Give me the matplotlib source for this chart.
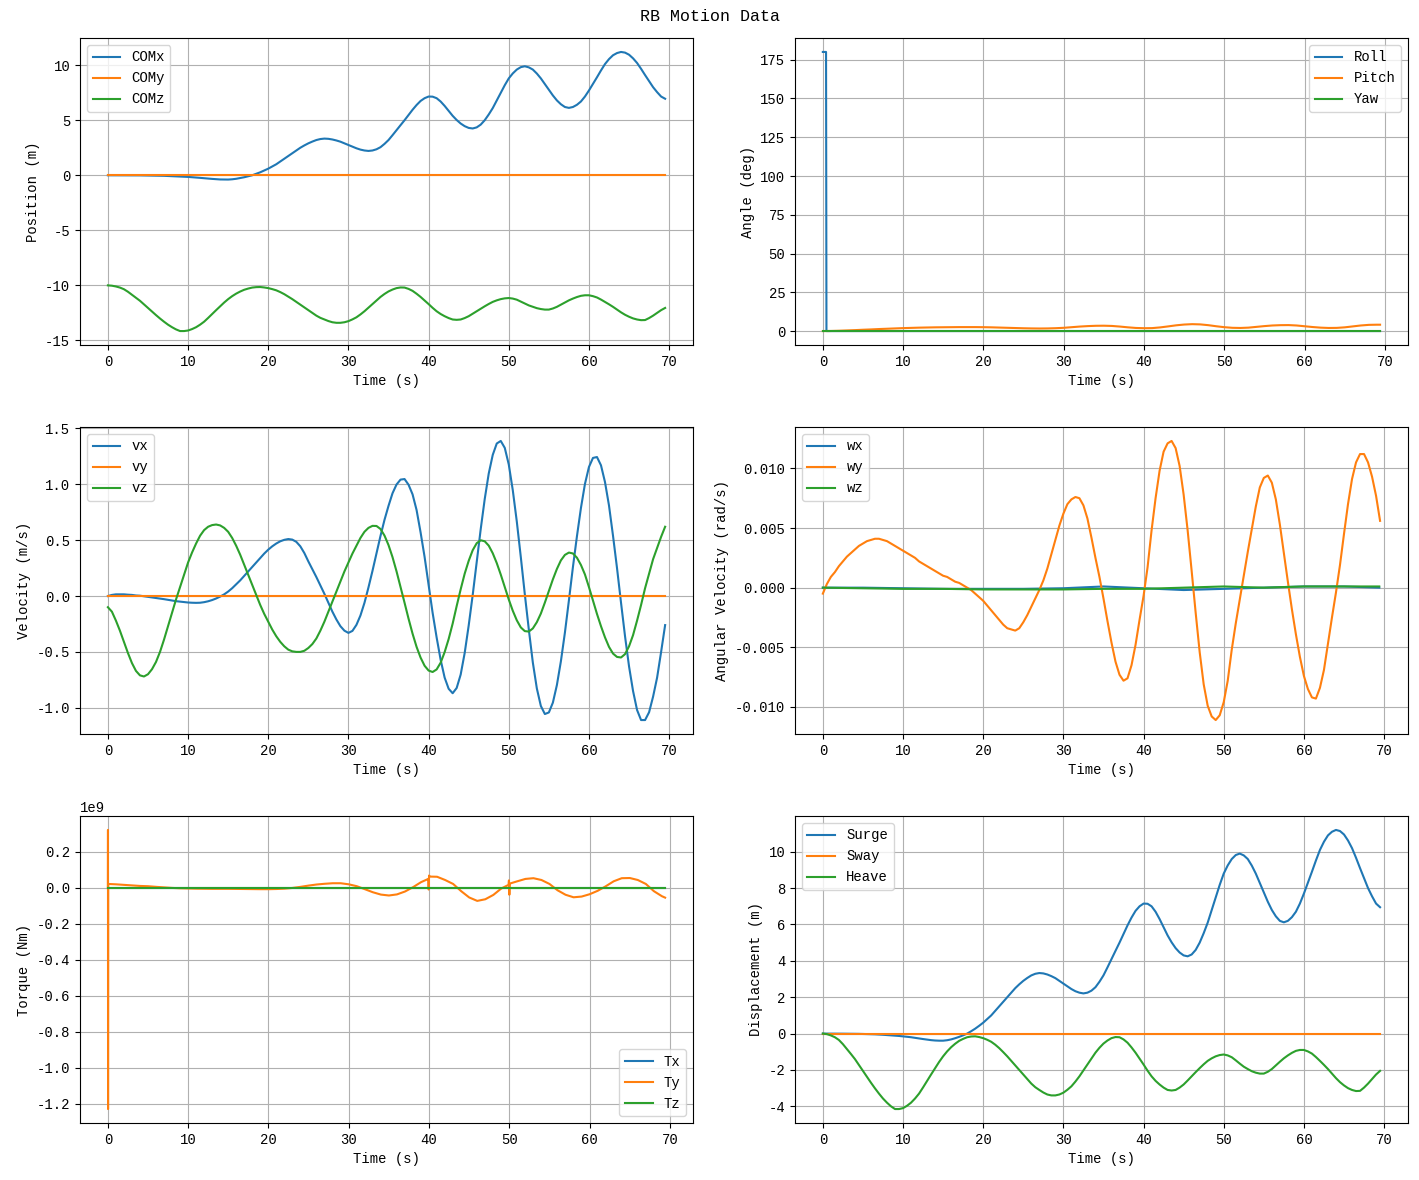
import numpy as np
import matplotlib
matplotlib.use('Agg')
import matplotlib.pyplot as plt

plt.rcParams['font.family'] = ['Liberation Mono', 'DejaVu Sans']
plt.rcParams['font.size'] = 10
plt.rcParams['axes.unicode_minus'] = False

# ---- time bases ----
t_slow = list(range(70)) + [69.4]          # 1 s samples (pitch / yaw)
STEP = 0.5                                 # other series sampled every 0.5 s

# ---- centre of mass position (m), 0.5 s samples ----
com_x = [0, 0, 0, 0, 0, -0.005, -0.01, -0.01, -0.01, -0.015,
         -0.02, -0.025, -0.03, -0.04, -0.05, -0.065, -0.08, -0.095, -0.11, -0.13,
         -0.15, -0.175, -0.2, -0.235, -0.27, -0.30, -0.33, -0.36, -0.38, -0.39,
         -0.39, -0.365, -0.32, -0.255, -0.18, -0.095, 0.0, 0.13, 0.27, 0.43,
         0.6, 0.8, 1.0, 1.25, 1.5, 1.75, 2.0, 2.25, 2.5, 2.71,
         2.9, 3.06, 3.2, 3.29, 3.33, 3.31, 3.25, 3.16, 3.05, 2.9,
         2.75, 2.6, 2.45, 2.33, 2.25, 2.21, 2.25, 2.36, 2.55, 2.85,
         3.2, 3.64, 4.1, 4.55, 5.0, 5.48, 5.95, 6.38, 6.75, 7.0,
         7.15, 7.14, 7.0, 6.7, 6.3, 5.85, 5.4, 5.02, 4.7, 4.46,
         4.3, 4.25, 4.35, 4.6, 5.0, 5.52, 6.1, 6.8, 7.5, 8.18,
         8.8, 9.25, 9.6, 9.82, 9.9, 9.8, 9.6, 9.24, 8.8, 8.28,
         7.75, 7.25, 6.8, 6.45, 6.2, 6.12, 6.2, 6.4, 6.7, 7.15,
         7.7, 8.3, 8.9, 9.52, 10.1, 10.55, 10.9, 11.1, 11.2, 11.14,
         10.95, 10.62, 10.2, 9.67, 9.1, 8.55, 8.0, 7.55, 7.15, 6.95]
com_y = [0.0] * len(com_x)
com_z = [-10.0, -10.03, -10.1, -10.2, -10.35, -10.58, -10.85, -11.12, -11.4, -11.72,
         -12.05, -12.38, -12.7, -13.01, -13.3, -13.57, -13.8, -14.0, -14.15, -14.15,
         -14.1, -13.97, -13.8, -13.57, -13.3, -12.96, -12.6, -12.25, -11.9, -11.56,
         -11.25, -10.98, -10.75, -10.56, -10.4, -10.29, -10.2, -10.16, -10.15, -10.19,
         -10.25, -10.34, -10.45, -10.61, -10.8, -11.02, -11.25, -11.5, -11.75, -12.0,
         -12.25, -12.5, -12.75, -12.95, -13.1, -13.24, -13.35, -13.4, -13.4, -13.35,
         -13.25, -13.09, -12.9, -12.64, -12.35, -12.03, -11.7, -11.37, -11.05, -10.78,
         -10.55, -10.38, -10.25, -10.19, -10.2, -10.32, -10.5, -10.76, -11.05, -11.37,
         -11.7, -12.04, -12.35, -12.6, -12.8, -12.97, -13.1, -13.13, -13.1, -12.97,
         -12.8, -12.58, -12.35, -12.12, -11.9, -11.69, -11.5, -11.36, -11.25, -11.18,
         -11.15, -11.2, -11.3, -11.47, -11.65, -11.82, -11.95, -12.07, -12.15, -12.2,
         -12.2, -12.1, -11.95, -11.75, -11.55, -11.36, -11.2, -11.06, -10.95, -10.9,
         -10.9, -10.98, -11.1, -11.29, -11.5, -11.72, -11.95, -12.2, -12.45, -12.67,
         -12.85, -13.0, -13.1, -13.16, -13.15, -12.97, -12.75, -12.5, -12.25, -12.05]

# ---- attitude (deg) ----
t_roll = [0, 0.4, 0.45, 69.4]
roll = [180, 180, 0, 0]
pitch = [0, 0.05, 0.2, 0.4, 0.6, 0.85, 1.05, 1.3, 1.5, 1.7,
         1.9, 2.05, 2.2, 2.3, 2.4, 2.45, 2.5, 2.55, 2.55, 2.55,
         2.5, 2.4, 2.25, 2.1, 1.95, 1.8, 1.7, 1.65, 1.7, 1.85,
         2.1, 2.5, 2.9, 3.2, 3.4, 3.45, 3.3, 2.9, 2.4, 2.0,
         1.85, 1.9, 2.35, 3.0, 3.7, 4.2, 4.45, 4.3, 3.8, 3.1,
         2.5, 2.1, 2.0, 2.2, 2.7, 3.2, 3.6, 3.8, 3.85, 3.6,
         3.1, 2.6, 2.2, 2.0, 2.05, 2.4, 3.0, 3.6, 4.0, 4.1,
         4.1]
yaw = [0.0] * len(t_slow)

# ---- linear velocity (m/s), 0.5 s samples ----
vx = [0.0, 0.01, 0.015, 0.015, 0.015, 0.012, 0.01, 0.005, 0.003, -0.002,
      -0.007, -0.012, -0.017, -0.022, -0.028, -0.034, -0.04, -0.046, -0.05, -0.054,
      -0.058, -0.06, -0.061, -0.06, -0.055, -0.047, -0.036, -0.022, -0.005, 0.015,
      0.04, 0.07, 0.105, 0.14, 0.18, 0.22, 0.26, 0.30, 0.34, 0.38,
      0.415, 0.445, 0.47, 0.49, 0.503, 0.51, 0.505, 0.485, 0.445, 0.385,
      0.31, 0.24, 0.17, 0.095, 0.02, -0.06, -0.14, -0.21, -0.27, -0.31,
      -0.33, -0.312, -0.258, -0.174, -0.061, 0.077, 0.225, 0.383, 0.538, 0.682,
      0.807, 0.92, 0.998, 1.042, 1.047, 0.996, 0.91, 0.77, 0.57, 0.35,
      0.1, -0.15, -0.37, -0.57, -0.73, -0.83, -0.87, -0.823, -0.703, -0.51,
      -0.264, 0.009, 0.305, 0.599, 0.868, 1.096, 1.263, 1.365, 1.388, 1.326,
      1.177, 0.947, 0.667, 0.349, 0.016, -0.30, -0.595, -0.827, -0.984, -1.056,
      -1.042, -0.954, -0.797, -0.584, -0.328, -0.039, 0.259, 0.534, 0.788, 1.003,
      1.155, 1.236, 1.244, 1.17, 1.02, 0.81, 0.54, 0.25, -0.06, -0.36,
      -0.63, -0.85, -1.02, -1.11, -1.11, -1.04, -0.9, -0.73, -0.5, -0.26]
vy = [0.0] * len(vx)
vz = [-0.1, -0.14, -0.22, -0.31, -0.41, -0.51, -0.6, -0.67, -0.71, -0.72,
      -0.7, -0.655, -0.59, -0.5, -0.39, -0.27, -0.15, -0.03, 0.08, 0.19,
      0.3, 0.39, 0.47, 0.54, 0.59, 0.62, 0.635, 0.64, 0.632, 0.61,
      0.575, 0.52, 0.45, 0.37, 0.28, 0.19, 0.1, 0.01, -0.08, -0.16,
      -0.23, -0.3, -0.36, -0.41, -0.45, -0.48, -0.495, -0.5, -0.5, -0.49,
      -0.465, -0.43, -0.38, -0.31, -0.23, -0.14, -0.05, 0.04, 0.13, 0.22,
      0.3, 0.38, 0.45, 0.52, 0.575, 0.61, 0.628, 0.627, 0.6, 0.541,
      0.456, 0.348, 0.221, 0.082, -0.06, -0.203, -0.337, -0.455, -0.551, -0.624,
      -0.667, -0.68, -0.657, -0.597, -0.502, -0.385, -0.247, -0.09, 0.06, 0.2,
      0.315, 0.41, 0.473, 0.499, 0.49, 0.451, 0.383, 0.295, 0.192, 0.079,
      -0.031, -0.132, -0.217, -0.281, -0.314, -0.318, -0.29, -0.234, -0.157, -0.059,
      0.045, 0.149, 0.242, 0.319, 0.368, 0.389, 0.381, 0.343, 0.278, 0.193,
      0.08, -0.04, -0.16, -0.27, -0.37, -0.455, -0.515, -0.545, -0.55, -0.52,
      -0.45, -0.35, -0.22, -0.08, 0.07, 0.2, 0.33, 0.43, 0.53, 0.62]

# ---- angular velocity (rad/s) ----
wy = [-0.0005, 0.0003, 0.0009, 0.0013, 0.0018, 0.0022, 0.0026, 0.0029, 0.0032, 0.0035,
      0.0037, 0.0039, 0.0040, 0.0041, 0.0041, 0.0040, 0.0039, 0.0037, 0.0035, 0.0033,
      0.0031, 0.0029, 0.0027, 0.0025, 0.0022, 0.0020, 0.0018, 0.0016, 0.0014, 0.0012,
      0.0010, 0.0009, 0.0007, 0.0005, 0.0004, 0.0002, 0.0000, -0.0002, -0.0005, -0.0008,
      -0.0011, -0.0015, -0.0019, -0.0023, -0.0027, -0.0031, -0.0034, -0.0035, -0.0036, -0.0034,
      -0.0029, -0.0023, -0.0016, -0.0009, -0.0002, 0.0006, 0.0016, 0.0028, 0.0040, 0.0052,
      0.0062, 0.0070, 0.0074, 0.0076, 0.0075, 0.0069, 0.0058, 0.0042, 0.0025, 0.0009,
      -0.0009, -0.0028, -0.0046, -0.0062, -0.0073, -0.0078, -0.0076, -0.0065, -0.0048, -0.0027,
      -0.0007, 0.0017, 0.0048, 0.0075, 0.0098, 0.0114, 0.0121, 0.0123, 0.0117, 0.0102,
      0.0078, 0.0048, 0.0014, -0.0021, -0.0054, -0.0081, -0.0099, -0.0108, -0.0111, -0.0107,
      -0.0096, -0.0078, -0.0052, -0.0030, -0.0010, 0.0010, 0.0030, 0.0049, 0.0068, 0.0084,
      0.0092, 0.0094, 0.0088, 0.0074, 0.0053, 0.0029, 0.0005, -0.0018, -0.0039, -0.0058,
      -0.0074, -0.0085, -0.0092, -0.0093, -0.0084, -0.0069, -0.0047, -0.0025, -0.0004, 0.0019,
      0.0045, 0.0070, 0.0091, 0.0105, 0.0112, 0.0112, 0.0105, 0.0093, 0.0077, 0.0056]
t_w_small = [0, 5, 10, 15, 20, 25, 30, 35, 40, 45, 50, 55, 60, 65, 69.4]
wx = [0, 0, -0.00005, -0.0001, -0.0001, -0.0001, -0.00005, 0.0001, -0.00005,
      -0.0002, -0.0001, 0.0, 0.0001, 0.0001, 0.0]
wz = [0, -0.00005, -0.0001, -0.0001, -0.00015, -0.00015, -0.00015, -0.0001, -0.0001,
      0.0, 0.0001, 0.0, 0.0001, 0.0001, 0.0001]

# ---- torque (in 1e9 Nm) ----
t_torque = ([0, 0.01, 0.02, 0.04] + list(range(1, 40)) + [39.9, 39.95, 40.0, 40.05]
            + list(range(41, 50)) + [49.9, 49.95, 50.0, 50.05] + list(range(51, 70)) + [69.4])
ty_g = ([0.0, 0.32, -1.23, 0.02]
        + [0.018, 0.015, 0.012, 0.009, 0.0075, 0.004, 0.001, -0.002, -0.004, -0.005,
           -0.006, -0.0065, -0.007, -0.007, -0.007, -0.0075, -0.008, -0.0085, -0.009, -0.009,
           -0.008, -0.006, -0.002, 0.004, 0.011, 0.017, 0.021, 0.024, 0.024, 0.018,
           0.0075, -0.009, -0.026, -0.039, -0.044, -0.038, -0.022, 0.002, 0.03]
        + [0.048, -0.011, 0.067, 0.061]
        + [0.06, 0.042, 0.02, -0.02, -0.055, -0.074, -0.065, -0.041, -0.005]
        + [0.015, 0.04, -0.04, 0.022]
        + [0.035, 0.048, 0.052, 0.042, 0.02, -0.015, -0.04, -0.054, -0.05, -0.037,
           -0.018, 0.007, 0.035, 0.052, 0.053, 0.042, 0.02, -0.02, -0.048]
        + [-0.056])
t_torque_flat = [0, 69.4]
tx_g = [0.0, 0.0]
tz_g = [0.0, 0.0]

# displacement relative to the start position
surge = com_x
sway = com_y
heave = [z - com_z[0] for z in com_z]

t_fast = np.arange(len(vx)) * STEP

fig, axes = plt.subplots(3, 2, figsize=(14.19, 11.8), dpi=100)
fig.subplots_adjust(left=0.0564, right=0.9922, bottom=0.0483, top=0.9678,
                    wspace=0.1664, hspace=0.267)
fig.suptitle('RB Motion Data', fontsize=12, y=0.992)

ax = axes[0, 0]
ax.plot(t_fast, com_x, label='COMx')
ax.plot(t_fast, com_y, label='COMy')
ax.plot(t_fast, com_z, label='COMz')
ax.set_ylabel('Position (m)')
ax.legend(loc='upper left')

ax = axes[0, 1]
ax.plot(t_roll, roll, label='Roll')
ax.plot(t_slow, pitch, label='Pitch')
ax.plot(t_slow, yaw, label='Yaw')
ax.set_ylabel('Angle (deg)')
ax.legend(loc='upper right')

ax = axes[1, 0]
ax.plot(t_fast, vx, label='vx')
ax.plot(t_fast, vy, label='vy')
ax.plot(t_fast, vz, label='vz')
ax.set_ylabel('Velocity (m/s)')
ax.legend(loc='upper left')

ax = axes[1, 1]
ax.plot(t_w_small, wx, label='wx')
ax.plot(t_fast, wy, label='wy')
ax.plot(t_w_small, wz, label='wz')
ax.set_ylabel('Angular Velocity (rad/s)')
ax.legend(loc='upper left')

ax = axes[2, 0]
ax.plot(t_torque_flat, np.array(tx_g) * 1e9, label='Tx')
ax.plot(t_torque, np.array(ty_g) * 1e9, label='Ty')
ax.plot(t_torque_flat, np.array(tz_g) * 1e9, label='Tz')
ax.set_ylabel('Torque (Nm)')
ax.legend(loc='lower right')

ax = axes[2, 1]
ax.plot(t_fast, surge, label='Surge')
ax.plot(t_fast, sway, label='Sway')
ax.plot(t_fast, heave, label='Heave')
ax.set_ylabel('Displacement (m)')
ax.legend(loc='upper left')

for ax in axes.flat:
    ax.set_xlabel('Time (s)')
    ax.grid(True)

fig.savefig('out.png', dpi=100)
